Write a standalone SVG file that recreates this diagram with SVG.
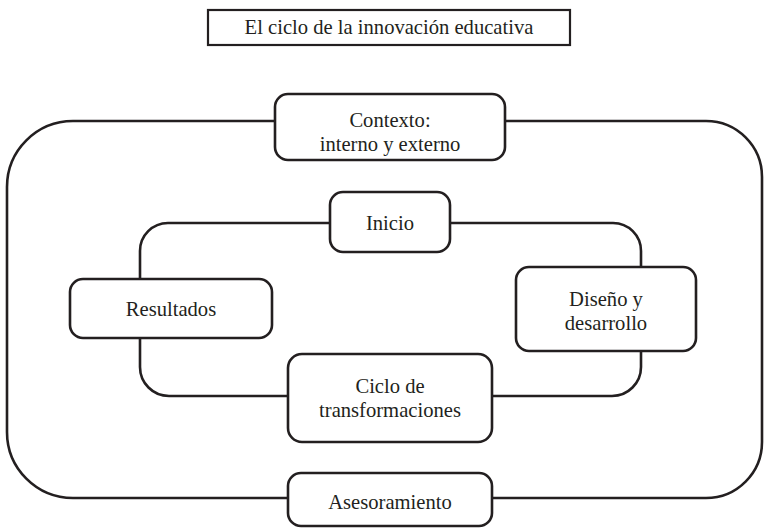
<svg xmlns="http://www.w3.org/2000/svg" width="765" height="528" viewBox="0 0 765 528">
<style>
.box{fill:#fff;stroke:#231f20;stroke-width:2.6}
.ln{fill:none;stroke:#231f20;stroke-width:2.6}
.t{font-size:20.6px;fill:#231f20;text-anchor:middle}
</style>
<rect width="765" height="528" fill="#fff"/>
<g font-family="'Liberation Serif', 'Times New Roman', Times, serif">
<g id="title">
<rect x="208" y="10" width="362" height="35" fill="#fff" stroke="#231f20" stroke-width="2.2"/>
<text class="t" x="389" y="34">El ciclo de la innovación educativa</text>
</g>
<g id="connectors">
<path class="ln" d="M275,121 H73 A66,66 0 0 0 7,187 V432 A66,66 0 0 0 73,498 H288"/>
<path class="ln" d="M491,498 H706 A56,56 0 0 0 762,442 V177 A56,56 0 0 0 706,121 H505"/>
<path class="ln" d="M330,223 H168 A28,28 0 0 0 140,251 V279"/>
<path class="ln" d="M140,338 V367 A29,29 0 0 0 169,396 H288"/>
<path class="ln" d="M492,396 H612 A29,29 0 0 0 641,367 V351"/>
<path class="ln" d="M641,267 V251 A28,28 0 0 0 613,223 H450"/>
</g>
<g id="contexto">
<rect class="box" x="275" y="94" width="230" height="66" rx="13"/>
<text class="t" x="390" y="127">Contexto:</text>
<text class="t" x="390" y="150.5">interno y externo</text>
</g>
<g id="inicio">
<rect class="box" x="330" y="192" width="120" height="60" rx="13"/>
<text class="t" x="390" y="230">Inicio</text>
</g>
<g id="resultados">
<rect class="box" x="70" y="279" width="202" height="59" rx="13"/>
<text class="t" x="171" y="316">Resultados</text>
</g>
<g id="diseno">
<rect class="box" x="516" y="267" width="180" height="84" rx="13"/>
<text class="t" x="606" y="306">Diseño y</text>
<text class="t" x="606" y="329.5">desarrollo</text>
</g>
<g id="ciclo">
<rect class="box" x="288" y="354" width="204" height="88" rx="14"/>
<text class="t" x="390" y="393">Ciclo de</text>
<text class="t" x="390" y="416.5">transformaciones</text>
</g>
<g id="asesoramiento">
<rect class="box" x="288" y="473" width="204" height="53" rx="13"/>
<text class="t" x="390" y="509">Asesoramiento</text>
</g>
</g>
</svg>
